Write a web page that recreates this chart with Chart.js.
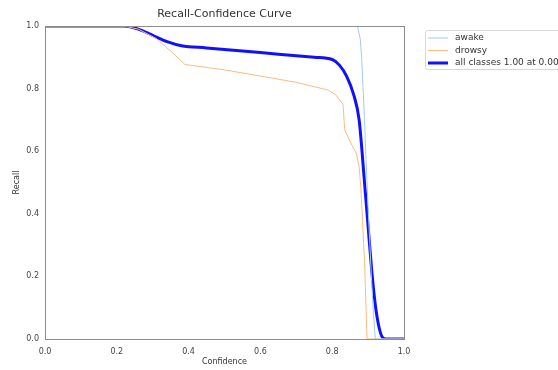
<!DOCTYPE html>
<html>
<head>
  <title>Recall-Confidence Curve</title>
  <script src="https://cdn.jsdelivr.net/npm/chart.js"></script>
  <style>
    html, body { margin: 0; padding: 0; background: #fff; }
    .chart-container { width: 558px; height: 370px; }
  </style>
</head>
<body>
  <div class="chart-container">
    <canvas id="rcChart"></canvas>
  </div>

  <script>
    const chartTitle = 'Recall-Confidence Curve';
    const seriesLabels = ['awake', 'drowsy', 'all classes 1.00 at 0.000'];

    const awakeConf = [0, 0.87, 0.872, 0.878, 0.882, 0.886, 0.89, 0.895, 0.90, 0.905, 0.91, 0.915, 0.92, 1.0];
    const awakeRecall = [1, 1, 0.99, 0.96, 0.90, 0.80, 0.70, 0.55, 0.42, 0.30, 0.18, 0.08, 0, 0];

    const drowsyConf = [0, 0.22, 0.26, 0.31, 0.35, 0.39, 0.5, 0.6, 0.7, 0.79, 0.81, 0.83, 0.835, 0.85, 0.867, 0.875, 0.88, 0.89, 0.897, 1.0];
    const drowsyRecall = [1, 1, 0.99, 0.96, 0.92, 0.877, 0.86, 0.84, 0.82, 0.795, 0.78, 0.75, 0.668, 0.63, 0.594, 0.55, 0.48, 0.25, 0, 0];

    const allConf = [0, 0.22, 0.26, 0.30, 0.34, 0.38, 0.45, 0.55, 0.65, 0.75, 0.80, 0.82, 0.84, 0.86, 0.875, 0.89, 0.90, 0.91, 0.92, 0.93, 0.94, 0.95, 1.0];
    const allRecall = [1, 1, 0.99, 0.97, 0.95, 0.937, 0.93, 0.92, 0.91, 0.90, 0.893, 0.875, 0.84, 0.78, 0.70, 0.50, 0.36, 0.22, 0.11, 0.04, 0.005, 0, 0];

    const xTicks = [0, 0.2, 0.4, 0.6, 0.8, 1.0];
    const yTicks = [0, 0.2, 0.4, 0.6, 0.8, 1.0];

    const toPoints = (xs, ys) => xs.map((x, i) => ({ x: x, y: ys[i] }));

    // box around the plot area + title centred over the plot
    const framePlugin = {
      id: 'frame',
      afterDatasetsDraw(chart) {
        const a = chart.chartArea;
        const ctx = chart.ctx;
        ctx.save();
        ctx.strokeStyle = '#8c8c8c';
        ctx.lineWidth = 1;
        ctx.strokeRect(a.left + 0.5, a.top + 0.5, a.right - a.left, a.bottom - a.top);
        ctx.fillStyle = '#333';
        ctx.font = '11px "DejaVu Sans"';
        ctx.textAlign = 'center';
        ctx.textBaseline = 'middle';
        ctx.fillText(chartTitle, (a.left + a.right) / 2, 14);
        ctx.restore();
      }
    };

    // matplotlib style legend outside the plot, on the right
    const legendPlugin = {
      id: 'mplLegend',
      afterDraw(chart) {
        const ctx = chart.ctx;
        const x0 = 425, y0 = 30;
        ctx.save();
        ctx.fillStyle = '#fff';
        ctx.strokeStyle = '#d8d8d8';
        ctx.lineWidth = 1;
        ctx.beginPath();
        ctx.roundRect(x0 + 0.5, y0 + 0.5, 150, 39, 2);
        ctx.fill();
        ctx.stroke();
        ctx.font = '9px "DejaVu Sans"';
        ctx.textBaseline = 'middle';
        chart.data.datasets.forEach((ds, i) => {
          const yy = y0 + 8 + i * 12.5;
          ctx.strokeStyle = ds.borderColor;
          ctx.lineWidth = ds.borderWidth;
          ctx.beginPath();
          ctx.moveTo(x0 + 3, yy);
          ctx.lineTo(x0 + 23, yy);
          ctx.stroke();
          ctx.fillStyle = '#333';
          ctx.fillText(ds.label, x0 + 30, yy);
        });
        ctx.restore();
      }
    };

    const ctx1 = document.getElementById('rcChart').getContext('2d');
    const chart1 = new Chart(ctx1, {
      type: 'line',
      data: {
        datasets: [
          {
            label: seriesLabels[0],
            data: toPoints(awakeConf, awakeRecall),
            borderColor: '#a3cde4',
            borderWidth: 1,
          },
          {
            label: seriesLabels[1],
            data: toPoints(drowsyConf, drowsyRecall),
            borderColor: '#fdbb80',
            borderWidth: 1,
          },
          {
            label: seriesLabels[2],
            data: toPoints(allConf, allRecall),
            borderColor: '#1010ff',
            borderWidth: 3,
            cubicInterpolationMode: 'monotone',
          },
        ],
      },
      options: {
        responsive: true,
        maintainAspectRatio: false,
        animation: false,
        layout: { padding: { left: 12, right: 154, top: 26, bottom: 0 } },
        elements: {
          point: { radius: 0 },
          line: { tension: 0, fill: false },
        },
        plugins: {
          legend: { display: false },
          tooltip: { enabled: false },
          title: { display: false },
        },
        scales: {
          x: {
            type: 'linear',
            min: 0,
            max: 1,
            afterBuildTicks: (axis) => { axis.ticks = xTicks.map(v => ({ value: v })); },
            afterFit: (axis) => { axis.height = 31; },
            grid: { display: false, drawTicks: true, tickLength: 3 },
            border: { color: '#8c8c8c' },
            ticks: {
              color: '#444',
              padding: 5,
              maxRotation: 0,
              font: { family: '"DejaVu Sans"', size: 8 },
              callback: (v) => v.toFixed(1),
            },
            title: {
              display: true,
              text: 'Confidence',
              color: '#333',
              padding: { top: 0, bottom: 3 },
              font: { family: '"DejaVu Sans"', size: 8 },
            },
          },
          y: {
            type: 'linear',
            min: 0,
            max: 1,
            afterBuildTicks: (axis) => { axis.ticks = yTicks.map(v => ({ value: v })); },
            afterFit: (axis) => { axis.width = 33; },
            grid: { display: false, drawTicks: true, tickLength: 3 },
            border: { color: '#8c8c8c' },
            ticks: {
              color: '#444',
              padding: 3,
              font: { family: '"DejaVu Sans"', size: 8 },
              callback: (v) => v.toFixed(1),
            },
            title: {
              display: true,
              text: 'Recall',
              color: '#333',
              padding: { top: 0, bottom: 0 },
              font: { family: '"DejaVu Sans"', size: 8 },
            },
          },
        },
      },
      plugins: [framePlugin, legendPlugin],
    });
  </script>
</body>
</html>
